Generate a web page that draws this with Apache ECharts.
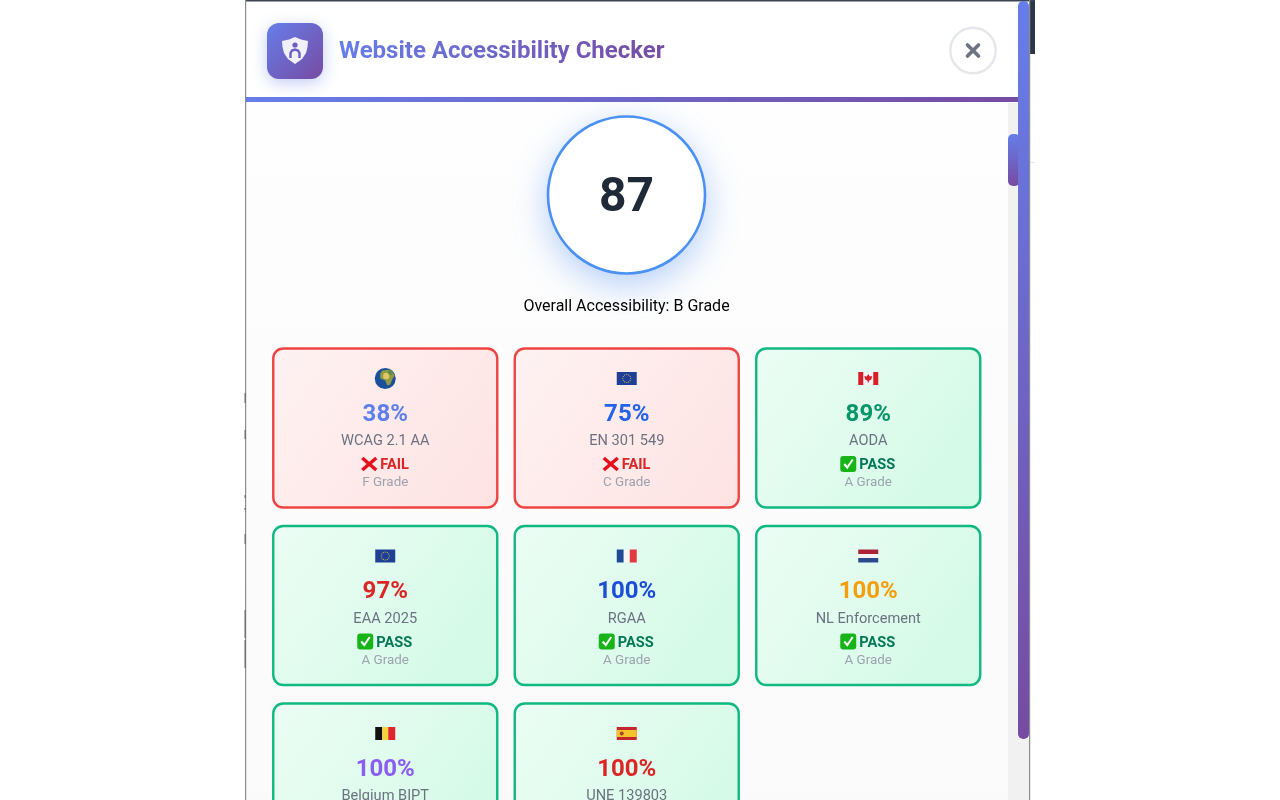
<!DOCTYPE html>
<html>
  <head>
    <meta charset="utf-8" />
    <title>Website Accessibility Checker</title>
    <script src="https://cdn.jsdelivr.net/npm/echarts@6/dist/echarts.min.js"></script>
    <style>
      html, body { margin: 0; padding: 0; background: #fff; }
    </style>
  </head>
  <body>
    <div id="main" style="width: 1280px; height: 800px"></div>
  </body>

  <script>
    var overallScore = 87;
    var overallLabel = "Overall Accessibility: B Grade";
    var titleText = "Website Accessibility Checker";

    var standards = ["WCAG 2.1 AA", "EN 301 549", "AODA", "EAA 2025", "RGAA", "NL Enforcement", "Belgium BIPT", "UNE 139803"];
    var scores = [38, 75, 89, 97, 100, 100, 100, 100];
    var statuses = ["FAIL", "FAIL", "PASS", "PASS", "PASS", "PASS", "PASS", "PASS"];
    var grades = ["F Grade", "C Grade", "A Grade", "A Grade", "A Grade", "A Grade", "A Grade", "A Grade"];
    var flags = ["globe", "eu", "ca", "eu", "fr", "nl", "be", "es"];
    var scoreColors = ["#5f7fec", "#2563eb", "#059669", "#dc2626", "#1d4ed8", "#f59e0b", "#8b5cf6", "#dc2626"];

    var columns = ["c1", "c2", "c3"];
    var rows = ["r1", "r2", "r3"];

    var myChart = echarts.init(document.getElementById("main"));

    function grad(x, y, x2, y2, from, to) {
      return {
        type: "linear", x: x, y: y, x2: x2, y2: y2,
        colorStops: [{ offset: 0, color: from }, { offset: 1, color: to }],
      };
    }
    var brand = function () { return grad(0, 0, 1, 1, "#667eea", "#764ba2"); };

    function rect(x, y, w, h, fill) {
      return { type: "rect", shape: { x: x, y: y, width: w, height: h }, style: { fill: fill } };
    }

    // little flags, emoji fonts are not available
    function flagShapes(kind, cx, cy) {
      var x = cx - 10, y = cy - 6.5, w = 20, h = 13;
      if (kind === "globe") {
        return [
          { type: "circle", shape: { cx: cx, cy: cy, r: 10.5 }, style: { fill: "#1a4f9c" } },
          { type: "polygon", shape: { points: [[cx - 3, cy - 8], [cx + 6, cy - 9], [cx + 9.5, cy - 3], [cx + 7, cy + 1], [cx + 5, cy + 6], [cx + 2, cy + 7], [cx, cy + 2], [cx - 5, cy], [cx - 5, cy - 5]] }, style: { fill: "#8f9a45" } },
          { type: "circle", shape: { cx: cx + 1, cy: cy - 2.5, r: 3.2 }, style: { fill: "#e0c766" } },
          { type: "circle", shape: { cx: cx + 5, cy: cy - 6, r: 2.4 }, style: { fill: "#5f8a4a" } },
        ];
      }
      if (kind === "eu") {
        var out = [rect(x, y, w, h, "#1f3f96")];
        for (var a = 0; a < 12; a++) {
          var t = (a / 12) * Math.PI * 2;
          out.push({ type: "circle", shape: { cx: cx + Math.cos(t) * 4, cy: cy + Math.sin(t) * 4, r: 0.6 }, style: { fill: "#d8c24a" } });
        }
        return out;
      }
      if (kind === "ca") {
        return [
          rect(x, y, w, h, "#f4f4f4"), rect(x, y, 5, h, "#d81e27"), rect(x + 15, y, 5, h, "#d81e27"),
          { type: "polygon", shape: { points: [[cx, cy - 4.5], [cx + 1.5, cy - 2], [cx + 4, cy - 2.5], [cx + 3, cy + 1], [cx + 0.6, cy + 2.2], [cx + 0.6, cy + 4], [cx - 0.6, cy + 4], [cx - 0.6, cy + 2.2], [cx - 3, cy + 1], [cx - 4, cy - 2.5], [cx - 1.5, cy - 2]] }, style: { fill: "#d81e27" } },
        ];
      }
      if (kind === "fr") return [rect(x, y, 7, h, "#1f4a94"), rect(x + 7, y, 6, h, "#f5f5f5"), rect(x + 13, y, 7, h, "#e23b3f")];
      if (kind === "be") return [rect(x, y, 7, h, "#111111"), rect(x + 7, y, 6, h, "#f5d33a"), rect(x + 13, y, 7, h, "#e0252f")];
      if (kind === "nl") return [rect(x, y, w, 4.5, "#ab2236"), rect(x, y + 4.5, w, 4, "#f3f3f3"), rect(x, y + 8.5, w, 4.5, "#2a4a8c")];
      if (kind === "es") return [
        rect(x, y, w, h, "#c1272d"), rect(x, y + 3, w, 7, "#f5c32c"),
        { type: "circle", shape: { cx: cx - 5, cy: cy, r: 2 }, style: { fill: "#a8442a" } },
      ];
      return [];
    }

    function statusIcon(status, cx, cy) {
      if (status === "FAIL") {
        return [
          { type: "line", shape: { x1: cx - 7, y1: cy - 6, x2: cx + 7, y2: cy + 6 }, style: { stroke: "#e5101c", lineWidth: 3.4 } },
          { type: "line", shape: { x1: cx + 7, y1: cy - 6, x2: cx - 7, y2: cy + 6 }, style: { stroke: "#e5101c", lineWidth: 3.4 } },
        ];
      }
      return [
        { type: "rect", shape: { x: cx - 8, y: cy - 8, width: 16, height: 16, r: 3 }, style: { fill: "#17b417" } },
        { type: "polyline", shape: { points: [[cx - 4, cy], [cx - 1, cy + 3.5], [cx + 4.5, cy - 4.5]] }, style: { stroke: "#ffffff", fill: "none", lineWidth: 2 } },
      ];
    }

    function label(text, x, y, font, fill, align) {
      return {
        type: "text",
        style: { text: text, x: x, y: y, font: font, fill: fill, align: align || "center", verticalAlign: "middle" },
      };
    }

    function renderCard(params, api) {
      var i = api.value(2);
      var c = api.coord([api.value(0), api.value(1)]);
      var cx = c[0], top = c[1] - 80.5;
      var fail = statuses[i] === "FAIL";
      var textLeft = fail ? cx - 5 : cx - 9;
      var iconX = fail ? cx - 16 : cx - 20;
      var children = [
        {
          type: "rect",
          shape: { x: cx - 112, y: top + 1, width: 224, height: 159, r: 10 },
          style: {
            fill: fail ? grad(0, 0, 1, 1, "#fef2f2", "#fee2e2") : grad(0, 0, 1, 1, "#ecfdf5", "#d1fae5"),
            stroke: fail ? "#ef4444" : "#10b981",
            lineWidth: 2.4,
          },
        },
      ];
      children = children.concat(flagShapes(flags[i], cx, top + 31));
      children.push(label(scores[i] + "%", cx, top + 67, "700 24px Roboto", scoreColors[i]));
      children.push(label(standards[i], cx, top + 94, "400 14.6px Roboto", "#6b7280"));
      children = children.concat(statusIcon(statuses[i], iconX, top + 116.5));
      children.push(label(statuses[i], textLeft, top + 118, "700 14.6px Roboto", fail ? "#dc2626" : "#047857", "left"));
      children.push(label(grades[i], cx, top + 135.5, "400 13.4px Roboto", "#9ca3af"));
      return { type: "group", children: children };
    }

    var cardData = standards.map(function (name, i) {
      return [i % 3, Math.floor(i / 3), i];
    });

    // grey marks on the left edge of the window behind the panel
    var edgeMarks = [[393, 10], [430, 9], [495, 3], [508, 2], [534, 10], [610, 28], [640, 6], [646, 22]];

    var graphics = [
      // page furniture
      { type: "rect", shape: { x: 1030, y: 0, width: 5, height: 54 }, style: { fill: "#2d3748" } },
      { type: "rect", shape: { x: 1030, y: 162, width: 5, height: 1 }, style: { fill: "#e8e8e8" } },
      { type: "rect", shape: { x: 245, y: 0, width: 785, height: 800 }, style: { fill: "#ffffff" } },
      { type: "rect", shape: { x: 246, y: 102, width: 772, height: 698 }, style: { fill: grad(0, 0, 0, 1, "#fefefe", "#fafafa") } },
      { type: "rect", shape: { x: 245, y: 0, width: 790, height: 1.5 }, style: { fill: "#3c4656" } },
      { type: "rect", shape: { x: 245, y: 0, width: 1.2, height: 800 }, style: { fill: "#8d8d90" } },
      { type: "rect", shape: { x: 1029, y: 0, width: 1.2, height: 800 }, style: { fill: "#8d8d90" } },
      // header
      { type: "rect", shape: { x: 246, y: 97, width: 772, height: 5 }, style: { fill: grad(0, 0, 1, 0, "#667eea", "#764ba2") } },
      {
        type: "rect",
        shape: { x: 267, y: 23, width: 56, height: 56, r: 12 },
        style: { fill: brand(), shadowBlur: 16, shadowOffsetY: 4, shadowColor: "rgba(102,126,234,0.4)" },
      },
      {
        type: "polygon",
        shape: { points: [[295, 37], [301, 39.5], [308, 41], [307.5, 47], [306, 53], [302, 59], [295, 64], [288, 59], [284, 53], [282.5, 47], [282, 41], [289, 39.5]] },
        style: { fill: "rgba(255,255,255,0.9)" },
      },
      { type: "circle", shape: { cx: 295, cy: 45, r: 2.6 }, style: { fill: "#6a5fc0" } },
      {
        type: "polyline",
        shape: { points: [[290.5, 58], [290.5, 53], [292, 50.5], [295, 49.5], [298, 50.5], [299.5, 53], [299.5, 58]] },
        style: { fill: "none", stroke: "#6a5fc0", lineWidth: 2.4 },
      },
      // zrender text takes no gradient fill, so the title is black with a gradient screened over it
      {
        type: "text",
        style: { text: titleText, x: 339, y: 52, font: "700 24px Roboto", fill: "#000000", verticalAlign: "middle" },
      },
      {
        type: "rect",
        shape: { x: 337, y: 34, width: 329, height: 34 },
        style: { fill: grad(0, 0, 1, 0, "#667eea", "#764ba2"), blend: "screen" },
      },
      { type: "circle", shape: { cx: 973, cy: 50.5, r: 22.7 }, style: { fill: "#ffffff", stroke: "#e5e7eb", lineWidth: 2.4 } },
      { type: "line", shape: { x1: 967.5, y1: 45, x2: 978.5, y2: 56 }, style: { stroke: "#6b7280", lineWidth: 3.6, lineCap: "round" } },
      { type: "line", shape: { x1: 978.5, y1: 45, x2: 967.5, y2: 56 }, style: { stroke: "#6b7280", lineWidth: 3.6, lineCap: "round" } },
      // scrollbars
      { type: "rect", shape: { x: 1008, y: 103, width: 10, height: 697 }, style: { fill: "#f1f1f1" } },
      { type: "rect", shape: { x: 1018, y: 739, width: 11, height: 61 }, style: { fill: "#f1f1f1" } },
      { type: "rect", shape: { x: 1008, y: 134, width: 12, height: 52, r: 5 }, style: { fill: grad(0, 0, 0, 1, "#667eea", "#764ba2") } },
      { type: "rect", shape: { x: 1018, y: 1, width: 11, height: 738, r: 5 }, style: { fill: grad(0, 0, 0, 1, "#667eea", "#764ba2") } },
      // overall score: glow first, clean ring above so no shadow falls inside it
      {
        type: "circle",
        shape: { cx: 626.5, cy: 195, r: 78.5 },
        style: { fill: "#ffffff", shadowBlur: 36, shadowOffsetY: 10, shadowColor: "rgba(59,130,246,0.4)" },
      },
      {
        type: "circle",
        shape: { cx: 626.5, cy: 195, r: 78.5 },
        style: { fill: "#ffffff", stroke: "#4a90f5", lineWidth: 2.6 },
      },
      { type: "text", style: { text: String(overallScore), x: 626.5, y: 199, font: "700 48px Roboto", fill: "#1f2937", align: "center", verticalAlign: "middle" } },
      { type: "text", style: { text: overallLabel, x: 626.5, y: 306.5, font: "400 16px Roboto", fill: "#000000", align: "center", verticalAlign: "middle" } },
    ];
    edgeMarks.forEach(function (m) {
      graphics.push({ type: "rect", shape: { x: 244.5, y: m[0], width: 1.5, height: m[1] }, style: { fill: "#6f7175" } });
    });

    option = {
      backgroundColor: "#ffffff",
      animation: false,
      grid: { left: 264.5, top: 339.25, width: 724.5, height: 532.5, outerBoundsMode: "none" },
      xAxis: { type: "category", data: columns, show: false },
      yAxis: { type: "category", data: rows, inverse: true, show: false },
      graphic: { elements: graphics },
      series: [
        {
          type: "custom",
          renderItem: renderCard,
          data: cardData,
          clip: false,
          silent: true,
        },
      ],
    };

    myChart.setOption(option);
  </script>
</html>
